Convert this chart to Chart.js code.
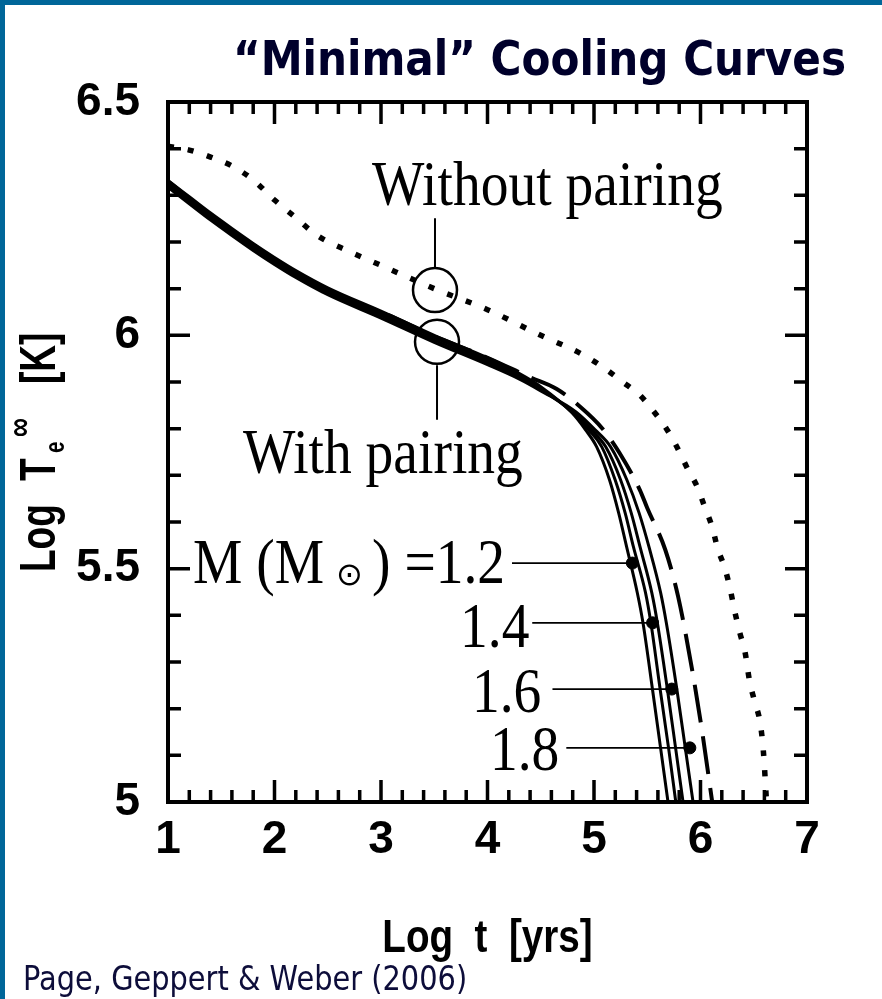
<!DOCTYPE html>
<html>
<head>
<meta charset="utf-8">
<script src="https://cdn.jsdelivr.net/npm/chart.js@4"></script>
<style>
  html, body { margin: 0; padding: 0; background: #fff; overflow: hidden; }
  canvas { display: block; }
</style>
</head>
<body>
<canvas id="chart" width="882" height="999"></canvas>
<script>
// axis ticks
const xTickValues = [1, 2, 3, 4, 5, 6, 7];
const yTickValues = [5, 5.5, 6, 6.5];

// "Without pairing" (dotted)
const noPairX = [1.0, 1.2, 1.4, 1.6, 1.8, 2.0, 2.2, 2.4, 2.7, 3.0, 3.5, 4.0, 4.5, 4.9, 5.12, 5.27, 5.43, 5.55, 5.68, 5.78, 5.87, 5.97, 6.04, 6.11, 6.16, 6.23, 6.28, 6.32, 6.37, 6.42, 6.46, 6.51, 6.56, 6.59, 6.62];
const noPairY = [6.405, 6.397, 6.382, 6.363, 6.333, 6.29, 6.252, 6.214, 6.18, 6.15, 6.10, 6.055, 6.0, 5.958, 5.926, 5.90, 5.872, 5.84, 5.80, 5.76, 5.718, 5.675, 5.632, 5.589, 5.544, 5.50, 5.455, 5.41, 5.362, 5.319, 5.26, 5.214, 5.17, 5.11, 5.0];

// "With pairing", M = 1.2 .. 1.8 (solid)
const m12X = [1.0, 1.2, 1.4, 1.6, 1.8, 2.0, 2.2, 2.5, 3.0, 3.5, 4.0, 4.3, 4.5, 4.793, 4.922, 5.025, 5.146, 5.232, 5.307, 5.407, 5.46, 5.55, 5.625, 5.695];
const m12Y = [6.332, 6.297, 6.262, 6.229, 6.197, 6.167, 6.139, 6.102, 6.052, 6.0, 5.952, 5.918, 5.89, 5.834, 5.797, 5.761, 5.690, 5.619, 5.546, 5.448, 5.384, 5.24, 5.116, 5.0];
const m14X = [1.0, 1.2, 1.4, 1.6, 1.8, 2.0, 2.2, 2.5, 3.0, 3.5, 4.0, 4.3, 4.5, 4.803, 4.952, 5.073, 5.199, 5.293, 5.371, 5.484, 5.534, 5.622, 5.70, 5.768];
const m14Y = [6.327, 6.292, 6.257, 6.224, 6.192, 6.162, 6.134, 6.097, 6.047, 5.995, 5.947, 5.914, 5.887, 5.834, 5.797, 5.761, 5.690, 5.619, 5.546, 5.448, 5.384, 5.24, 5.116, 5.0];
const m16X = [1.0, 1.2, 1.4, 1.6, 1.8, 2.0, 2.2, 2.5, 3.0, 3.5, 4.0, 4.3, 4.5, 4.812, 4.98, 5.11, 5.25, 5.35, 5.433, 5.543, 5.595, 5.69, 5.766, 5.836];
const m16Y = [6.322, 6.287, 6.252, 6.219, 6.187, 6.157, 6.129, 6.092, 6.042, 5.99, 5.942, 5.91, 5.884, 5.834, 5.797, 5.761, 5.690, 5.619, 5.546, 5.448, 5.384, 5.24, 5.116, 5.0];
const m18X = [1.0, 1.2, 1.4, 1.6, 1.8, 2.0, 2.2, 2.5, 3.0, 3.5, 4.0, 4.3, 4.5, 4.831, 5.013, 5.156, 5.309, 5.424, 5.517, 5.626, 5.679, 5.779, 5.857, 5.93];
const m18Y = [6.317, 6.282, 6.247, 6.214, 6.182, 6.152, 6.124, 6.087, 6.037, 5.985, 5.937, 5.906, 5.881, 5.836, 5.797, 5.761, 5.690, 5.619, 5.546, 5.448, 5.384, 5.24, 5.116, 5.0];

// dashed curve
const dashX = [1.0, 1.5, 2.0, 2.5, 3.0, 3.5, 4.0, 4.4, 4.65, 4.87, 5.08, 5.24, 5.43, 5.5, 5.67, 5.79, 5.93, 6.02, 6.11];
const dashY = [6.33, 6.24, 6.163, 6.09, 6.05, 5.998, 5.952, 5.91, 5.885, 5.847, 5.80, 5.748, 5.669, 5.63, 5.54, 5.44, 5.272, 5.144, 5.0];

// mass markers and their leader lines
const massLabels = ['1.2', '1.4', '1.6', '1.8'];
const markX = [5.36, 5.55, 5.73, 5.90];
const markY = [5.512, 5.384, 5.242, 5.116];
const leaderStartX = [4.23, 4.42, 4.61, 4.74];

// annotation circles and their connector lines
const circleX = [3.507, 3.526];
const circleY = [6.097, 5.986];
const connectorY1 = [6.251, 5.936];
const connectorY2 = [6.146, 5.819];

const pts = (xs, ys) => xs.map((x, i) => ({x: x, y: ys[i]}));

const datasets = [];
[[m12X, m12Y], [m14X, m14Y], [m16X, m16Y], [m18X, m18Y]].forEach(function (c) {
    datasets.push({
        data: pts(c[0], c[1]), borderColor: '#000', borderWidth: 3,
        pointRadius: 0, cubicInterpolationMode: 'monotone', fill: false
    });
});
datasets.push({
    data: pts(dashX, dashY), borderColor: '#000', borderWidth: 4, borderDash: [38, 14],
    pointRadius: 0, cubicInterpolationMode: 'monotone', fill: false
});
datasets.push({
    data: pts(noPairX, noPairY), borderColor: '#000', borderWidth: 5.5, borderDash: [6, 14],
    pointRadius: 0, cubicInterpolationMode: 'monotone', fill: false
});
markX.forEach(function (x, i) {
    datasets.push({
        data: [{x: leaderStartX[i], y: markY[i]}, {x: x, y: markY[i]}],
        borderColor: '#000', borderWidth: 1.8, pointRadius: 0, fill: false
    });
});
datasets.push({
    type: 'scatter', data: pts(markX, markY), pointRadius: 6,
    pointBackgroundColor: '#000', pointBorderColor: '#000', showLine: false
});
circleX.forEach(function (x, i) {
    datasets.push({
        data: [{x: x, y: connectorY1[i]}, {x: x, y: connectorY2[i]}],
        borderColor: '#000', borderWidth: 2, pointRadius: 0, fill: false
    });
});
datasets.push({
    type: 'scatter', data: pts(circleX, circleY), pointRadius: 22, pointBorderWidth: 2.5,
    pointBackgroundColor: 'rgba(0,0,0,0)', pointBorderColor: '#000', showLine: false
});

// text annotations in data coordinates
const notes = [
    {text: 'Without pairing', x: 2.915, y: 6.279},
    {text: 'With pairing', x: 1.704, y: 5.705},
    {text: massLabels[1], x: 3.742, y: 5.332},
    {text: massLabels[2], x: 3.854, y: 5.193},
    {text: massLabels[3], x: 4.023, y: 5.069}
];

function drawText(ctx, str, x, y, font, color, align, sx, sy) {
    ctx.save();
    ctx.translate(x, y);
    ctx.scale(sx, sy);
    ctx.font = font;
    ctx.fillStyle = color;
    ctx.textAlign = align;
    ctx.textBaseline = 'alphabetic';
    ctx.fillText(str, 0, 0);
    ctx.restore();
}

const decorPlugin = {
    id: 'decor',
    beforeDraw(chart) {
        const ctx = chart.ctx;
        ctx.save();
        ctx.fillStyle = '#fff';
        ctx.fillRect(0, 0, chart.width, chart.height);
        ctx.fillStyle = '#006699';
        ctx.fillRect(0, 0, 5, chart.height);
        ctx.fillRect(0, 0, chart.width, 5);
        ctx.restore();
    },
    afterDraw(chart) {
        const ctx = chart.ctx;
        const a = chart.chartArea;
        const xs = chart.scales.x, ys = chart.scales.y;

        // frame
        ctx.save();
        ctx.strokeStyle = '#000';
        ctx.lineWidth = 4;
        ctx.strokeRect(a.left, a.top, a.right - a.left, a.bottom - a.top);

        // inward ticks on all four sides
        ctx.lineWidth = 3.5;
        ctx.beginPath();
        for (let i = 0; i < xTickValues.length - 1; i++) {
            for (let k = 0; k < 5; k++) {
                const v = xTickValues[i] + k * 0.2;
                if (v <= xTickValues[0]) continue;
                const px = xs.getPixelForValue(v);
                const len = k === 0 ? 22 : 12;
                ctx.moveTo(px, a.bottom); ctx.lineTo(px, a.bottom - len);
                ctx.moveTo(px, a.top); ctx.lineTo(px, a.top + len);
            }
        }
        for (let i = 0; i < yTickValues.length - 1; i++) {
            for (let k = 0; k < 5; k++) {
                const v = yTickValues[i] + k * 0.1;
                if (v <= yTickValues[0]) continue;
                const py = ys.getPixelForValue(v);
                const len = k === 0 ? 22 : 13;
                ctx.moveTo(a.left, py); ctx.lineTo(a.left + len, py);
                ctx.moveTo(a.right, py); ctx.lineTo(a.right - len, py);
            }
        }
        ctx.stroke();
        ctx.restore();

        // serif annotations
        const serif = '55.5px "Liberation Serif", "Times New Roman", serif';
        notes.forEach(function (n) {
            drawText(ctx, n.text, xs.getPixelForValue(n.x), ys.getPixelForValue(n.y), serif, '#000', 'left', 1, 1.16);
        });

        // M (M_sun) = 1.2
        const mx = xs.getPixelForValue(1.235);
        const my = ys.getPixelForValue(5.469);
        ctx.save();
        ctx.font = serif;
        const w1 = ctx.measureText('M (M').width;
        ctx.restore();
        drawText(ctx, 'M (M', mx, my, serif, '#000', 'left', 1, 1.16);
        drawText(ctx, '\u2299', mx + w1 + 12, my + 2, '32px "DejaVu Sans", serif', '#000', 'left', 1, 1);
        drawText(ctx, ') =' + massLabels[0], mx + w1 + 48, my, serif, '#000', 'left', 1, 1.16);

        // title and credit
        drawText(ctx, '\u201CMinimal\u201D Cooling Curves', 846, 75, 'bold 43px "DejaVu Sans", sans-serif', '#00002b', 'right', 0.98, 1.12);
        drawText(ctx, 'Page, Geppert & Weber (2006)', 23, 990, '28px "DejaVu Sans", sans-serif', '#0d0d3a', 'left', 1.03, 1.2);

        // x axis title
        const axisFont = 'bold 46px "Liberation Sans", Arial, sans-serif';
        drawText(ctx, 'Log  t  [yrs]', (a.left + a.right) / 2, 952, axisFont, '#000', 'center', 0.84, 1);

        // y axis title, rotated, with subscript e and superscript infinity
        const cy = (a.top + a.bottom) / 2;
        const bigFont = 'bold 50px "Liberation Sans", Arial, sans-serif';
        const parts = [
            {t: 'Log', u: 0, v: 0, f: bigFont},
            {t: 'T', u: 91, v: 0, f: bigFont},
            {t: 'e', u: 119, v: 9, f: 'bold 28px "Liberation Sans", Arial, sans-serif'},
            {t: '\u221E', u: 135, v: -24, f: 'bold 36px "Liberation Sans", Arial, sans-serif'},
            {t: '[K]', u: 188, v: 0, f: bigFont}
        ];
        ctx.save();
        ctx.translate(55, cy + 120);
        ctx.rotate(-Math.PI / 2);
        ctx.fillStyle = '#000';
        ctx.textAlign = 'left';
        ctx.textBaseline = 'alphabetic';
        parts.forEach(function (p) {
            ctx.save();
            ctx.translate(p.u, p.v);
            ctx.scale(0.74, 1);
            ctx.font = p.f;
            ctx.fillText(p.t, 0, 0);
            ctx.restore();
        });
        ctx.restore();

        // keep the right edge plain white (the frame is only on the left and top)
        ctx.save();
        ctx.fillStyle = '#fff';
        ctx.fillRect(chart.width - 4, 5, 4, chart.height - 5);
        ctx.restore();
    }
};

new Chart(document.getElementById('chart'), {
    type: 'line',
    data: {datasets: datasets},
    options: {
        responsive: false,
        animation: false,
        layout: {padding: {top: 102, right: 75, left: 0, bottom: 0}},
        plugins: {legend: {display: false}, tooltip: {enabled: false}, title: {display: false}},
        scales: {
            x: {
                type: 'linear', min: 1, max: 7,
                afterBuildTicks: function (s) { s.ticks = xTickValues.map(v => ({value: v})); },
                afterFit: function (s) { s.height = 197; },
                grid: {display: false, drawTicks: false},
                border: {display: false},
                ticks: {
                    color: '#000', padding: 11, maxRotation: 0, autoSkip: false,
                    callback: v => String(v),
                    font: {family: '"Liberation Sans", Arial, sans-serif', size: 46, weight: 'bold'}
                }
            },
            y: {
                type: 'linear', min: 5, max: 6.5,
                afterBuildTicks: function (s) { s.ticks = yTickValues.map(v => ({value: v})); },
                afterFit: function (s) { s.width = 168; },
                grid: {display: false, drawTicks: false},
                border: {display: false},
                ticks: {
                    color: '#000', padding: 28, autoSkip: false,
                    callback: v => String(v),
                    font: {family: '"Liberation Sans", Arial, sans-serif', size: 46, weight: 'bold'}
                }
            }
        }
    },
    plugins: [decorPlugin]
});
</script>
</body>
</html>
